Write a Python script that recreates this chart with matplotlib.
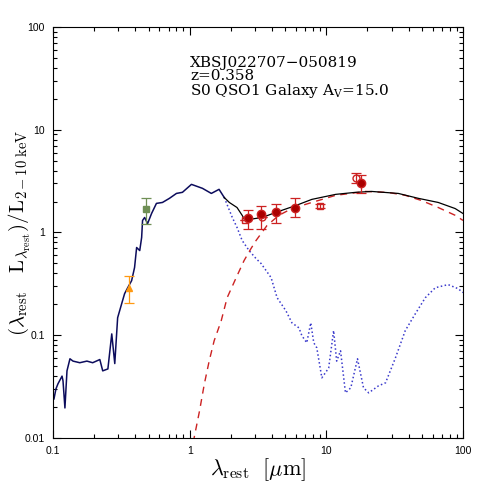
import matplotlib as mpl
mpl.use('Agg')
import matplotlib.pyplot as plt
import matplotlib.ticker as ticker
import numpy as np

# galaxy template (solid part at short wavelengths, dotted beyond ~1.8 micron)
gal_wave = [0.1016, 0.105, 0.1086, 0.1164, 0.1183, 0.1222, 0.1265, 0.133, 0.140, 0.157,
            0.177, 0.195, 0.220, 0.231, 0.252, 0.269, 0.283, 0.297, 0.318, 0.334,
            0.352, 0.376, 0.395, 0.409, 0.431, 0.445, 0.452, 0.468, 0.492, 0.526,
            0.571, 0.632, 0.711, 0.800, 0.885, 1.03, 1.24, 1.44, 1.64, 1.79,
            2.05, 2.22, 2.42, 2.72, 3.06, 3.33, 3.94, 4.36, 5.06, 5.60,
            6.30, 6.62, 7.19, 7.69, 8.09, 8.51, 9.27, 10.4, 11.3, 11.9,
            12.7, 13.8, 15.1, 16.9, 18.7, 20.4, 24.1, 27.1, 32.0, 37.8,
            44.8, 53.0, 62.7, 77.8, 92.0, 100.0]
gal_flux = [0.024, 0.030, 0.0336, 0.040, 0.036, 0.0196, 0.045, 0.059, 0.056, 0.054,
            0.056, 0.054, 0.058, 0.045, 0.047, 0.103, 0.053, 0.148, 0.203, 0.254,
            0.29, 0.34, 0.456, 0.714, 0.667, 0.893, 1.31, 1.40, 1.22, 1.53,
            1.92, 1.96, 2.15, 2.40, 2.46, 2.94, 2.69, 2.40, 2.63, 2.19,
            1.40, 1.12, 0.836, 0.667, 0.557, 0.499, 0.364, 0.232, 0.173, 0.132,
            0.118, 0.099, 0.0845, 0.132, 0.0845, 0.0755, 0.0385, 0.048, 0.111, 0.056,
            0.0706, 0.0275, 0.0308, 0.059, 0.0308, 0.0275, 0.0322, 0.0344, 0.060, 0.111,
            0.162, 0.232, 0.290, 0.311, 0.284, 0.26]
split = 1.79  # where the galaxy curve turns dotted

# QSO1 template
agn_wave = [1.06, 1.18, 1.28, 1.39, 1.51, 1.70, 1.88, 2.19, 2.50, 2.81, 3.06, 3.68,
            4.50, 5.59, 7.83, 11.7, 19.4, 28.5, 37.8, 49.5, 65.9, 87.6, 100.0]
agn_flux = [0.009, 0.0183, 0.0336, 0.0564, 0.0883, 0.138, 0.232, 0.364, 0.533, 0.698, 0.836, 1.17,
            1.47, 1.71, 1.96, 2.30, 2.51, 2.45, 2.30, 2.05, 1.75, 1.47, 1.31]

# total model
tot_wave = [1.79, 1.95, 2.22, 2.42, 2.54, 2.72, 3.39, 4.28, 5.98, 7.83, 11.7, 16.4,
            21.4, 33.6, 47.1, 65.9, 87.6, 100.0]
tot_flux = [2.19, 1.96, 1.75, 1.47, 1.31, 1.34, 1.40, 1.57, 1.83, 2.10, 2.35, 2.46,
            2.51, 2.40, 2.15, 1.96, 1.71, 1.53]

# photometry
opt_wave, opt_flux, opt_lo, opt_hi = [0.36], [0.29], [0.206], [0.378]
grn_wave, grn_flux, grn_lo, grn_hi = [0.477], [1.68], [1.21], [2.16]
ir_wave = [2.67, 3.33, 4.27, 5.89, 17.8]
ir_flux = [1.37, 1.50, 1.57, 1.75, 3.0]
ir_lo = [1.09, 1.09, 1.25, 1.40, 2.43]
ir_hi = [1.64, 1.83, 1.88, 2.17, 3.6]
irs_wave = [2.54, 3.38, 8.97, 16.4]
irs_flux = [1.31, 1.40, 1.83, 3.39]
irs_lo = [1.31, 1.40, 1.75, 3.0]
irs_hi = [1.31, 1.40, 1.90, 3.8]
irs_mark = ['s', 'o', 's', 'o']

plt.rcParams['mathtext.fontset'] = 'cm'
plt.rcParams['font.family'] = 'Liberation Sans'

fig = plt.figure(figsize=(4.91, 4.91), dpi=100)
ax = fig.add_axes([0.108, 0.108, 0.835, 0.837])

gw = np.array(gal_wave)
gf = np.array(gal_flux)
short = gw <= split
ax.plot(gw[short], gf[short], color='#0c0c5c', lw=1.1)
ax.plot(gw[gw >= split], gf[gw >= split], color='#3a3acc', lw=1.1, ls=(0, (1, 1.6)))
ax.plot(agn_wave, agn_flux, color='#cc2222', lw=1.0, ls=(0, (5, 4)))
ax.plot(tot_wave, tot_flux, color='black', lw=0.9)

def ebar(w, f, lo, hi, col, mk, mfc, ms):
    f = np.array(f)
    yerr = [f - np.array(lo), np.array(hi) - f]
    ax.errorbar(w, f, yerr=yerr, fmt=mk, color=col, mfc=mfc, mec=col, ms=ms,
                capsize=3.5, elinewidth=0.9, capthick=0.9, zorder=5)

ebar(opt_wave, opt_flux, opt_lo, opt_hi, '#ff9911', '^', '#ff9911', 4.5)
ebar(grn_wave, grn_flux, grn_lo, grn_hi, '#6f8f55', 's', '#6f8f55', 4)
for i in range(len(irs_wave)):
    ebar([irs_wave[i]], [irs_flux[i]], [irs_lo[i]], [irs_hi[i]], '#cc2222', irs_mark[i], 'none', 5)
ebar(ir_wave, ir_flux, ir_lo, ir_hi, '#cc2222', 'o', '#aa0000', 6)

ax.set_xscale('log')
ax.set_yscale('log')
ax.set_xlim(0.1, 100)
ax.set_ylim(0.01, 100)
fmt = ticker.FuncFormatter(lambda v, p: '%g' % v)
ax.xaxis.set_major_formatter(fmt)
ax.yaxis.set_major_formatter(fmt)
ax.tick_params(which='both', direction='in', top=True, right=True, labelsize=7.5)
ax.tick_params(which='major', length=6, width=0.8)
ax.tick_params(which='minor', length=3, width=0.8)
ax.tick_params(axis='x', pad=6)
ax.tick_params(axis='y', pad=6)

ax.set_xlabel(r'$\lambda_{\rm rest}\ \ [\mu{\rm m}]$', fontsize=16, labelpad=0)
ax.set_ylabel(r'$(\lambda_{\rm rest}\ \ \ {\rm L}_{\lambda_{\rm rest}})/{\rm L}_{\rm 2-10\ keV}$', fontsize=15)
ax.yaxis.set_label_coords(-0.05, 0.5)

tkw = dict(transform=ax.transAxes, fontsize=11, family='DejaVu Serif', va='baseline',
           math_fontfamily='dejavuserif')
ax.text(0.334, 0.903, 'XBSJ022707\u2212050819', **tkw)
ax.text(0.334, 0.871, 'z=0.358', **tkw)
ax.text(0.334, 0.834, r'S0 QSO1 Galaxy A$_{\rm V}$=15.0', **tkw)

plt.savefig('out.png', dpi=100)
